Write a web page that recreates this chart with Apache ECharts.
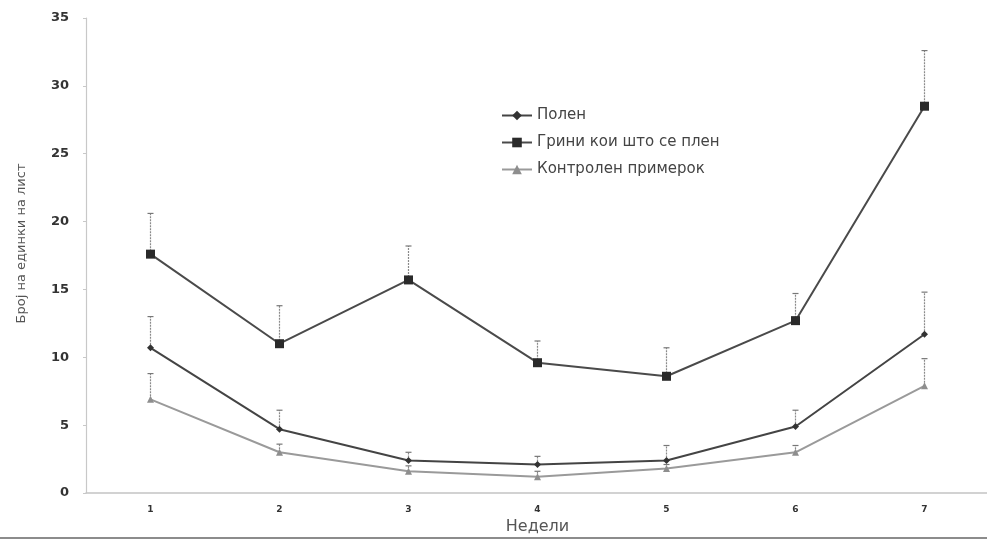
<!DOCTYPE html>
<html>
<head>
<meta charset="utf-8">
<script src="https://cdn.jsdelivr.net/npm/echarts@6/dist/echarts.min.js"></script>
<style>
    html, body { margin: 0; padding: 0; background: #fff; }
    #chart { width: 987px; height: 540px; }
</style>
</head>
<body>
<div id="chart"></div>
<script>
    const weeks = ['1', '2', '3', '4', '5', '6', '7']
    const seriesNames = ['Полен', 'Грини кои што се плен', 'Контролен примерок']

    // means
    const polen = [10.7, 4.7, 2.4, 2.1, 2.4, 4.9, 11.7]
    const grini = [17.6, 11.0, 15.7, 9.6, 8.6, 12.7, 28.5]
    const kontrola = [6.9, 3.0, 1.6, 1.2, 1.8, 3.0, 7.9]

    // top of error bars
    const polenErr = [13.0, 6.1, 3.0, 2.7, 3.5, 6.1, 14.8]
    const griniErr = [20.6, 13.8, 18.2, 11.2, 10.7, 14.7, 32.6]
    const kontrolaErr = [8.8, 3.6, 2.0, 1.6, 2.1, 3.5, 9.9]

    const chart = echarts.init(document.getElementById('chart'))

    function errorSeries(means, tops) {
        return {
            type: 'custom',
            silent: true,
            z: 1,
            data: means.map((m, i) => [i, m, tops[i]]),
            renderItem(params, api) {
                const base = api.coord([api.value(0), api.value(1)])
                const top = api.coord([api.value(0), api.value(2)])
                const style = { stroke: '#8a8a8a', lineWidth: 1.2, lineDash: [2, 1] }
                return {
                    type: 'group',
                    children: [
                        { type: 'line', shape: { x1: base[0], y1: base[1], x2: top[0], y2: top[1] }, style: style },
                        { type: 'line', shape: { x1: top[0] - 3, y1: top[1], x2: top[0] + 3, y2: top[1] }, style: { stroke: '#777', lineWidth: 1.2 } }
                    ]
                }
            }
        }
    }

    const options = {
        backgroundColor: '#fff',
        animation: false,
        grid: {
            left: 86,
            top: 18,
            width: 903,
            bottom: 47,
            containLabel: false,
            outerBoundsMode: 'none'
        },
        legend: {
            orient: 'vertical',
            left: 496,
            top: 103,
            itemGap: 12,
            itemWidth: 30,
            itemHeight: 12,
            data: seriesNames,
            textStyle: {
                fontFamily: 'DejaVu Sans',
                fontSize: 15,
                color: '#444'
            }
        },
        xAxis: {
            type: 'category',
            data: weeks,
            name: 'Недели',
            nameLocation: 'middle',
            nameGap: 25,
            nameTextStyle: {
                fontFamily: 'DejaVu Sans',
                fontSize: 16,
                color: '#555'
            },
            axisLine: { lineStyle: { color: '#c4c4c4', width: 1.5 } },
            axisTick: { show: false },
            axisLabel: {
                margin: 12,
                fontFamily: 'DejaVu Sans',
                fontWeight: 'bold',
                fontSize: 9,
                color: '#333'
            }
        },
        yAxis: {
            type: 'value',
            min: 0,
            max: 35,
            interval: 5,
            name: 'Број на единки на лист',
            nameLocation: 'middle',
            nameGap: 58,
            nameTextStyle: {
                fontFamily: 'DejaVu Sans',
                fontSize: 13,
                color: '#555',
                padding: [0, 0, 0, 24]
            },
            axisLine: { show: true, lineStyle: { color: '#c8c8c8', width: 1.2 } },
            axisTick: { show: true, length: 3, lineStyle: { color: '#c8c8c8' } },
            splitLine: { show: false },
            axisLabel: {
                margin: 17,
                fontFamily: 'DejaVu Sans',
                fontWeight: 'bold',
                fontSize: 13,
                color: '#333'
            }
        },
        series: [
            errorSeries(polen, polenErr),
            errorSeries(grini, griniErr),
            errorSeries(kontrola, kontrolaErr),
            {
                name: seriesNames[0],
                type: 'line',
                data: polen,
                z: 3,
                symbol: 'diamond',
                symbolSize: 7,
                lineStyle: { color: '#444', width: 2 },
                itemStyle: { color: '#333' }
            },
            {
                name: seriesNames[1],
                type: 'line',
                data: grini,
                z: 3,
                symbol: 'rect',
                symbolSize: 9,
                lineStyle: { color: '#4a4a4a', width: 2 },
                itemStyle: { color: '#2a2a2a' }
            },
            {
                name: seriesNames[2],
                type: 'line',
                data: kontrola,
                z: 2,
                symbol: 'triangle',
                symbolSize: 7,
                lineStyle: { color: '#9a9a9a', width: 2 },
                itemStyle: { color: '#8e8e8e' }
            }
        ],
        graphic: [
            {
                type: 'line',
                shape: { x1: 0, y1: 538, x2: 987, y2: 538 },
                style: { stroke: '#666', lineWidth: 1.5 }
            }
        ]
    }

    chart.setOption(options)
</script>
</body>
</html>
